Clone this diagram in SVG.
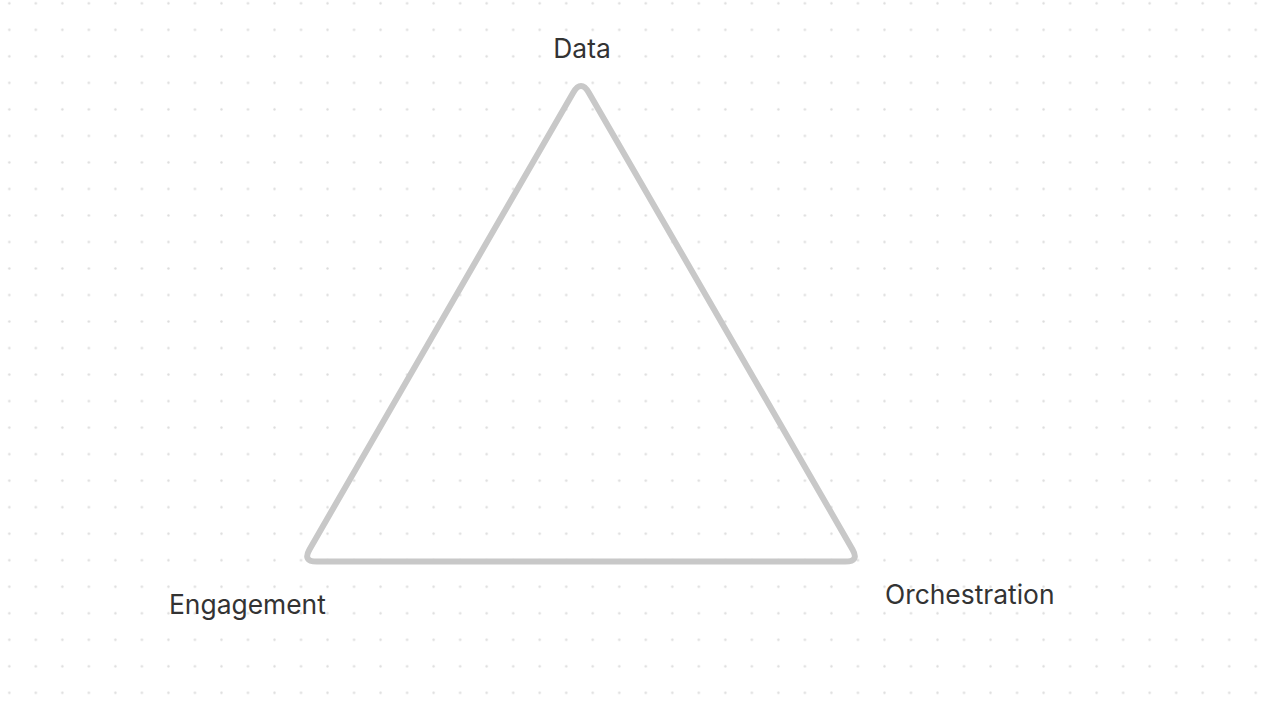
<svg xmlns="http://www.w3.org/2000/svg" width="1280" height="702" viewBox="0 0 1280 702">
  <style>
    .label { font-family: Inter, "Noto Sans", "Liberation Sans", sans-serif; font-size: 26.4px; fill: #333333; }
    .tri { fill: none; stroke: #c8c8c8; stroke-width: 6; stroke-linejoin: round; }
  </style>
  <defs>
    <pattern id="dots" patternUnits="userSpaceOnUse" x="-3.96" y="-9.96" width="26.52" height="26.52">
      <circle cx="13.26" cy="13.26" r="1.2" fill="#dcdcdc"/>
    </pattern>
  </defs>
  <rect width="1280" height="702" fill="#ffffff"/>
  <rect width="1280" height="702" fill="url(#dots)"/>
  <g id="connectors">
    <path class="tri" d="M589,92.9 L852.5,549.4 Q859.5,561.5 845.5,561.5 L316.5,561.5 Q302.5,561.5 309.5,549.4 L573,92.9 Q581,79 589,92.9 Z"/>
  </g>
  <g id="node-data">
    <text class="label" x="582" y="58" text-anchor="middle">Data</text>
  </g>
  <g id="node-engagement">
    <text class="label" x="169" y="614">Engagement</text>
  </g>
  <g id="node-orchestration">
    <text class="label" x="885" y="604">Orchestration</text>
  </g>
</svg>
